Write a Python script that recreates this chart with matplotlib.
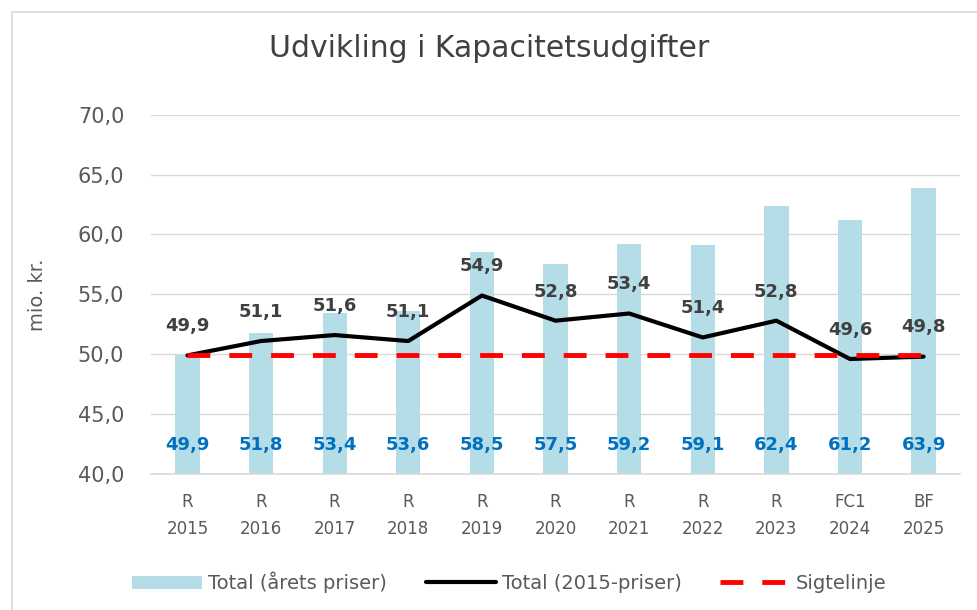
import matplotlib
matplotlib.use("Agg")
import matplotlib.pyplot as plt
from matplotlib.patches import Rectangle

plt.rcParams['font.family'] = ['DejaVu Sans']

categories = ["R\n2015", "R\n2016", "R\n2017", "R\n2018", "R\n2019", "R\n2020",
              "R\n2021", "R\n2022", "R\n2023", "FC1\n2024", "BF\n2025"]
total_current = [49.9, 51.8, 53.4, 53.6, 58.5, 57.5, 59.2, 59.1, 62.4, 61.2, 63.9]
total_2015 = [49.9, 51.1, 51.6, 51.1, 54.9, 52.8, 53.4, 51.4, 52.8, 49.6, 49.8]
sigtelinje = [49.9] * 11
yticks = [40, 45, 50, 55, 60, 65, 70]

def fmt(v):
    return f"{v:.1f}".replace(".", ",")

fig = plt.figure(figsize=(9.78, 6.1), dpi=100)
ax = fig.add_axes([0.154, 0.223, 0.828, 0.589])
x = list(range(len(categories)))

bars = ax.bar(x, total_current, width=0.33, color="#B4DDE8", label="Total (årets priser)", zorder=2)
line, = ax.plot(x, total_2015, color="black", lw=3, label="Total (2015-priser)", zorder=3,
                solid_capstyle="round")
sig, = ax.plot(x, sigtelinje, color="#FF0000", lw=3.5, ls=(0, (4.7, 3.9)), label="Sigtelinje", zorder=4)

for xi, v in zip(x, total_current):
    ax.text(xi, 42.4, fmt(v), ha="center", va="center", color="#0070C0",
            fontsize=13, fontweight="bold", zorder=5)
for xi, v in zip(x, total_2015):
    ax.annotate(fmt(v), (xi, v), xytext=(0, 21), textcoords="offset points",
                ha="center", va="center", color="#404040", fontsize=13,
                fontweight="bold", zorder=5)

ax.set_ylim(40, 70)
ax.set_xlim(-0.5, len(categories) - 0.5)
ax.set_yticks(yticks)
ax.set_yticklabels([fmt(t) for t in yticks], fontsize=15, color="#595959")
ax.set_xticks(x)
ax.set_xticklabels(categories, fontsize=12, color="#595959", linespacing=1.6)
ax.tick_params(axis="y", length=0, pad=19)
ax.tick_params(axis="x", length=0, pad=14)
ax.grid(axis="y", color="#D9D9D9", lw=1, zorder=0)
for s in ["top", "right", "left"]:
    ax.spines[s].set_visible(False)
ax.spines["bottom"].set_color("#D9D9D9")
ax.spines["bottom"].set_linewidth(1.2)
ax.set_ylabel("mio. kr.", fontsize=14, color="#595959", labelpad=22)

fig.suptitle("Udvikling i Kapacitetsudgifter", fontsize=21.5, color="#404040", y=0.945)

fig.legend([bars, line, sig], ["Total (årets priser)", "Total (2015-priser)", "Sigtelinje"],
           loc="center", bbox_to_anchor=(0.521, 0.045), ncol=3, frameon=False,
           fontsize=14, labelcolor="#595959", handlelength=3.6, columnspacing=2.0,
           handletextpad=0.3)

fig.patches.append(Rectangle((12 / 978, -0.1), 1.2, 1.1 - 12 / 610, transform=fig.transFigure,
                             fill=False, edgecolor="#D9D9D9", lw=1.2))

fig.savefig("out.png", dpi=100)
